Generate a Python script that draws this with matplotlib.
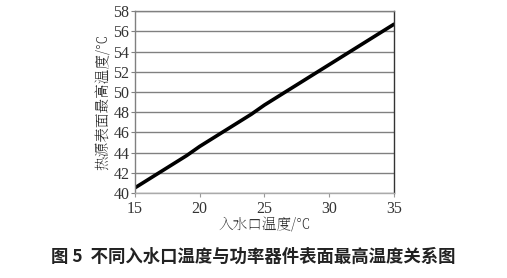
import numpy as np
import matplotlib.pyplot as plt

# inlet water temperature (C) and max surface temperature of power device (C)
inlet_temp = [15, 16, 17, 18, 19, 20, 21, 22, 23, 24, 25,
              26, 27, 28, 29, 30, 31, 32, 33, 34, 35]
max_temp = [40.5, 41.3, 42.1, 42.9, 43.7, 44.6, 45.4, 46.2, 47.0, 47.8, 48.7,
            49.5, 50.3, 51.1, 51.9, 52.7, 53.5, 54.3, 55.1, 55.9, 56.7]
xticks = [15, 20, 25, 30, 35]
yticks = [40, 42, 44, 46, 48, 50, 52, 54, 56, 58]

plt.rcParams['font.family'] = ['Liberation Serif', 'DejaVu Serif']
song = ['Noto Serif SC', 'Noto Sans CJK SC', 'DejaVu Serif']
hei = ['Noto Sans CJK SC', 'DejaVu Sans']

fig = plt.figure(figsize=(5.07, 2.78), dpi=100)
ax = fig.add_axes([0.266, 0.306, 0.511, 0.654])

ax.plot(inlet_temp, max_temp, color='black', lw=2.6, solid_capstyle='round')

ax.set_xlim(15, 35)
ax.set_ylim(40, 58)
ax.set_xticks(xticks)
ax.set_yticks(yticks)
ax.yaxis.grid(True, color='#808080', lw=1.0)
ax.set_axisbelow(True)

ax.tick_params(axis='y', direction='out', length=3, width=0.8, color='#808080', pad=1,
               labelsize=11.5, labelcolor='#333333')
ax.tick_params(axis='x', direction='out', length=3, width=0.8, color='#999999', pad=3,
               labelsize=11.5, labelcolor='#333333')

ax.spines['left'].set_color('#808080')
ax.spines['top'].set_color('#808080')
ax.spines['bottom'].set_color('#aaaaaa')
ax.spines['right'].set_color('#333333')
for s in ax.spines.values():
    s.set_linewidth(1.0)

ax.set_xlabel('入水口温度/℃', family=song, fontsize=10.5, color='#333333', labelpad=-1)
ax.set_ylabel('热源表面最高温度/℃', family=song, fontsize=10.5, color='#333333', labelpad=1)

fig.text(0.5, 0.06, '图 5  不同入水口温度与功率器件表面最高温度关系图',
         family=hei, fontsize=12.5, fontweight='bold', color='#222222', ha='center')

fig.savefig('out.png', dpi=100)
